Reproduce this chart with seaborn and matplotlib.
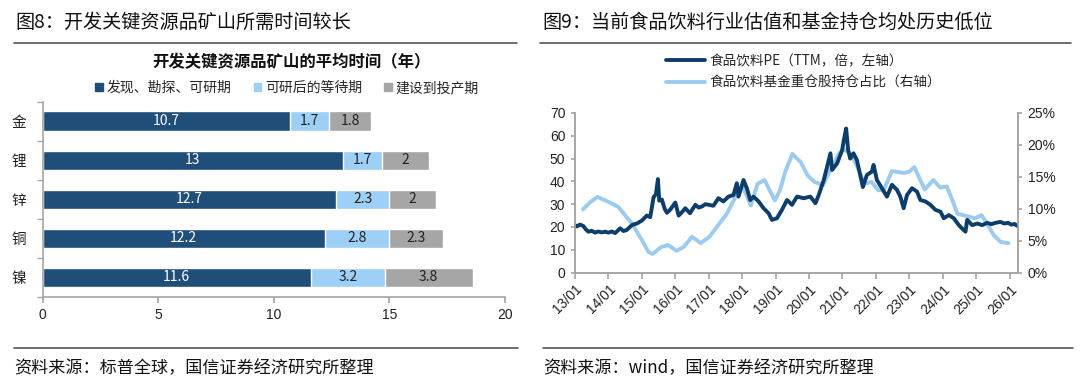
import numpy as np
import pandas as pd
import seaborn as sns
import matplotlib
matplotlib.use('Agg')
import matplotlib.pyplot as plt
from matplotlib.patches import Patch

# ---- data: left chart (years to develop a mine) ----
metals = ["金", "锂", "锌", "铜", "镍"]
phase_names = ["发现、勘探、可研期", "可研后的等待期", "建设到投产期"]
explore = [10.7, 13, 12.7, 12.2, 11.6]
waiting = [1.7, 1.7, 2.3, 2.8, 3.2]
build = [1.8, 2, 2, 2.3, 3.8]

# ---- data: right chart (food & beverage PE and fund holdings) ----
pe_year = [2013.00, 2013.05, 2013.15, 2013.25, 2013.32, 2013.40, 2013.50, 2013.60, 2013.70,
           2013.80, 2013.90, 2014.00, 2014.10, 2014.20, 2014.35, 2014.45, 2014.55, 2014.70,
           2014.85, 2015.00, 2015.15, 2015.25, 2015.35, 2015.42, 2015.48, 2015.52, 2015.60,
           2015.68, 2015.75, 2015.85, 2016.00, 2016.10, 2016.20, 2016.30, 2016.44, 2016.60,
           2016.70, 2016.80, 2016.90, 2017.00, 2017.14, 2017.29, 2017.44, 2017.59, 2017.74,
           2017.84, 2017.89, 2018.04, 2018.14, 2018.24, 2018.34, 2018.49, 2018.64, 2018.79,
           2018.89, 2019.04, 2019.19, 2019.34, 2019.49, 2019.64, 2019.84, 2020.04, 2020.19,
           2020.29, 2020.44, 2020.54, 2020.64, 2020.69, 2020.84, 2020.99, 2021.04, 2021.11,
           2021.17, 2021.23, 2021.33, 2021.43, 2021.53, 2021.61, 2021.73, 2021.88, 2021.93,
           2022.03, 2022.18, 2022.33, 2022.38, 2022.48, 2022.63, 2022.73, 2022.83, 2022.93,
           2023.08, 2023.23, 2023.33, 2023.48, 2023.63, 2023.78, 2023.93, 2024.03, 2024.18,
           2024.33, 2024.48, 2024.60, 2024.68, 2024.73, 2024.88, 2025.03, 2025.18, 2025.33,
           2025.45, 2025.58, 2025.72, 2025.84, 2025.95, 2026.05, 2026.15, 2026.22]
pe_value = [20.8, 20.2, 21.0, 20.4, 19.0, 17.9, 18.3, 17.5, 18.0,
            17.6, 17.9, 17.5, 18.0, 17.3, 19.4, 18.2, 18.7, 20.8,
            21.5, 22.8, 25.0, 24.3, 33.0, 34.4, 41.0, 31.5, 32.0,
            28.0, 26.2, 27.6, 30.7, 25.0, 26.5, 28.2, 26.0, 29.7,
            28.5, 29.0, 30.0, 29.7, 29.3, 32.6, 31.2, 33.3, 34.0,
            39.2, 33.3, 40.6, 37.0, 31.8, 33.3, 31.2, 28.2, 26.0,
            23.1, 23.8, 27.5, 31.8, 29.7, 33.3, 32.6, 33.3, 30.4,
            34.0, 40.6, 46.4, 52.3, 45.0, 47.9, 53.7, 58.0, 63.2,
            53.7, 50.0, 52.3, 49.4, 42.8, 37.5, 42.8, 44.3, 47.2,
            40.6, 37.0, 33.3, 35.0, 38.5, 36.3, 33.3, 28.2, 34.0,
            37.0, 35.5, 31.8, 31.2, 29.7, 27.5, 26.7, 23.8, 25.2,
            23.8, 20.8, 19.0, 17.9, 23.1, 20.8, 21.5, 20.8, 21.8,
            21.2, 21.8, 22.2, 21.5, 21.8, 21.0, 21.3, 20.5]

fund_year = [2013.24, 2013.45, 2013.67, 2013.95, 2014.29, 2014.70, 2015.00, 2015.20, 2015.32,
             2015.58, 2015.78, 2016.04, 2016.25, 2016.50, 2016.76, 2017.02, 2017.28, 2017.54,
             2017.80, 2018.00, 2018.15, 2018.26, 2018.46, 2018.67, 2018.82, 2018.98, 2019.13,
             2019.29, 2019.50, 2019.75, 2019.96, 2020.16, 2020.42, 2020.63, 2020.89, 2021.04,
             2021.25, 2021.45, 2021.66, 2021.87, 2022.07, 2022.23, 2022.48, 2022.84, 2023.00,
             2023.15, 2023.31, 2023.46, 2023.72, 2023.92, 2024.12, 2024.29, 2024.44, 2024.75,
             2024.96, 2025.16, 2025.32, 2025.53, 2025.73, 2025.96]
fund_value = [9.9, 11.0, 11.85, 11.2, 10.3, 7.7, 5.1, 3.2, 2.9,
              4.0, 4.3, 3.4, 4.0, 5.6, 4.6, 5.6, 7.4, 9.2,
              11.85, 13.7, 11.85, 10.5, 13.9, 14.5, 12.9, 11.3, 12.9,
              15.8, 18.6, 17.3, 15.2, 14.2, 13.7, 16.0, 18.6, 19.3,
              18.6, 16.5, 13.9, 14.2, 12.9, 12.9, 15.9, 15.6, 15.8,
              16.5, 14.7, 13.0, 14.5, 13.3, 13.5, 11.3, 9.2, 8.8,
              8.5, 9.0, 7.7, 5.8, 4.8, 4.6]

year_ticks = list(range(2013, 2027))

sns.set_theme(style="white")
plt.rcParams['font.family'] = ['Noto Sans CJK SC', 'DejaVu Sans']
plt.rcParams['axes.unicode_minus'] = False

W, H = 1080, 387
fig = plt.figure(figsize=(W / 100, H / 100), dpi=100)


def box(x0, y0, x1, y1):
    # pixel box (top-left origin) -> figure fraction rect
    return [x0 / W, 1 - y1 / H, (x1 - x0) / W, (y1 - y0) / H]


def fx(x):
    return x / W


def fy(y):
    return 1 - y / H


dark_bar = "#1F4E79"
light_bar = "#9DCFF7"
gray_bar = "#A6A6A6"
pe_color = "#0D3D6B"
fund_color = "#9CCBF1"
spine_gray = "#A6A6A6"
num_font = ['Liberation Sans', 'DejaVu Sans']

# ---------------- left panel ----------------
fig.text(fx(15), fy(22), "图8：开发关键资源品矿山所需时间较长", fontsize=13.8,
         va='center', ha='left', color='#111111')
fig.add_artist(plt.Line2D([fx(14), fx(517)], [fy(43), fy(43)], color='#555555', lw=1.2))
fig.text(fx(291), fy(62), "开发关键资源品矿山的平均时间（年）", fontsize=11.8,
         fontweight='bold', va='center', ha='center', color='#111111')

df = pd.DataFrame({"metal": metals, "explore": explore, "waiting": waiting, "build": build})
df["s2"] = df["explore"] + df["waiting"]
df["s3"] = df["s2"] + df["build"]

ax1 = fig.add_axes(box(42.6, 101.7, 505, 297))
sns.barplot(data=df, y="metal", x="s3", color=gray_bar, width=0.5, ax=ax1,
            saturation=1, orient='h')
sns.barplot(data=df, y="metal", x="s2", color=light_bar, width=0.5, ax=ax1,
            saturation=1, orient='h')
sns.barplot(data=df, y="metal", x="explore", color=dark_bar, width=0.5, ax=ax1,
            saturation=1, orient='h')

for i in range(len(metals)):
    ax1.text(explore[i] / 2, i, f"{explore[i]:g}", color='white', fontsize=10,
             ha='center', va='center')
    ax1.text(explore[i] + waiting[i] / 2, i, f"{waiting[i]:g}", color='#222222',
             fontsize=10, ha='center', va='center')
    ax1.text(explore[i] + waiting[i] + build[i] / 2, i, f"{build[i]:g}", color='#222222',
             fontsize=10, ha='center', va='center')

ax1.set_xlim(0, 20)
ax1.set_ylim(len(metals) - 0.5, -0.5)
ax1.set_xticks([0, 5, 10, 15, 20])
ax1.set_xticklabels(["0", "5", "10", "15", "20"], fontfamily=num_font, fontsize=10)
ax1.set_xlabel("")
ax1.set_ylabel("")
ax1.set_yticks(range(len(metals)))
ax1.set_yticklabels(metals, fontsize=10.5)
ax1.set_yticks(np.arange(-0.5, len(metals), 1.0), minor=True)
ax1.tick_params(axis='y', which='major', length=0, pad=12, colors='#222222')
ax1.tick_params(axis='y', which='minor', length=4, color=spine_gray, direction='out', left=True)
ax1.tick_params(axis='x', length=4, color=spine_gray, direction='out', bottom=True,
                pad=4, colors='#222222')
ax1.tick_params(axis='x', color=spine_gray)
for s in ["top", "right"]:
    ax1.spines[s].set_visible(False)
for s in ["left", "bottom"]:
    ax1.spines[s].set_color(spine_gray)
    ax1.spines[s].set_linewidth(1.2)
ax1.set_facecolor('white')

handles = [Patch(color=c) for c in [dark_bar, light_bar, gray_bar]]
fig.legend(handles, phase_names, loc='center', bbox_to_anchor=(fx(287), fy(88)), ncol=3,
           frameon=False, fontsize=10, handlelength=0.55, handleheight=0.55,
           handletextpad=0.25, columnspacing=1.6, borderpad=0)

fig.add_artist(plt.Line2D([fx(14), fx(518)], [fy(348), fy(348)], color='#555555', lw=1.2))
fig.text(fx(14), fy(368), "资料来源：标普全球，国信证券经济研究所整理", fontsize=12.3,
         va='center', ha='left', color='#111111')

# ---------------- right panel ----------------
fig.text(fx(542), fy(22), "图9：当前食品饮料行业估值和基金持仓均处历史低位", fontsize=13.8,
         va='center', ha='left', color='#111111')
fig.add_artist(plt.Line2D([fx(540), fx(1071)], [fy(43), fy(43)], color='#555555', lw=1.2))

ax2 = fig.add_axes(box(575, 113, 1018, 272.5))
ax3 = ax2.twinx()
sns.lineplot(x=fund_year, y=fund_value, ax=ax3, color=fund_color, lw=2.8,
             label="食品饮料基金重仓股持仓占比（右轴）", legend=False)
sns.lineplot(x=pe_year, y=pe_value, ax=ax2, color=pe_color, lw=2.8,
             label="食品饮料PE（TTM，倍，左轴）", legend=False)
ax2.set_zorder(ax3.get_zorder() + 1)
ax2.patch.set_visible(False)

ax2.set_xlim(2013, 2026.25)
ax2.set_ylim(0, 70)
ax3.set_ylim(0, 25)
ax2.set_yticks(range(0, 71, 10))
ax2.set_yticklabels([str(v) for v in range(0, 71, 10)], fontfamily=num_font, fontsize=10)
ax3.set_yticks(range(0, 26, 5))
ax3.set_yticklabels([f"{v}%" for v in range(0, 26, 5)], fontfamily=num_font, fontsize=10)
ax2.set_xticks(year_ticks)
ax2.set_xticklabels([f"{y % 100:02d}/01" for y in year_ticks], rotation=45, ha='right',
                    rotation_mode='anchor', fontfamily=num_font, fontsize=10)
ax2.tick_params(axis='x', length=4, color=spine_gray, direction='out', bottom=True, pad=3,
                colors='#222222')
ax2.tick_params(axis='y', length=3, color=spine_gray, direction='out', left=True, pad=4,
                colors='#222222')
ax3.tick_params(axis='y', length=3, color=spine_gray, direction='out', right=True, pad=4,
                colors='#222222')
for a in (ax2, ax3):
    a.set_xlabel("")
    a.set_ylabel("")
    a.grid(False)
    a.spines["top"].set_visible(False)
    for s in ["left", "right", "bottom"]:
        a.spines[s].set_color(spine_gray)
        a.spines[s].set_linewidth(1.2)
ax2.tick_params(axis='x', color=spine_gray)
ax2.tick_params(axis='y', color=spine_gray)
ax3.tick_params(axis='y', color=spine_gray)

lines = ax2.get_lines()[:1] + ax3.get_lines()[:1]
fig.legend(lines, [l.get_label() for l in lines], loc='center left',
           bbox_to_anchor=(fx(666), fy(72)), frameon=False, fontsize=9.8,
           handlelength=2.9, handletextpad=0.3, labelspacing=0.55, borderpad=0,
           borderaxespad=0)

fig.add_artist(plt.Line2D([fx(543), fx(1073)], [fy(348), fy(348)], color='#555555', lw=1.2))
fig.text(fx(543), fy(368), "资料来源：wind，国信证券经济研究所整理", fontsize=12.3,
         va='center', ha='left', color='#111111')

fig.savefig("out.png", dpi=100, facecolor='white')
